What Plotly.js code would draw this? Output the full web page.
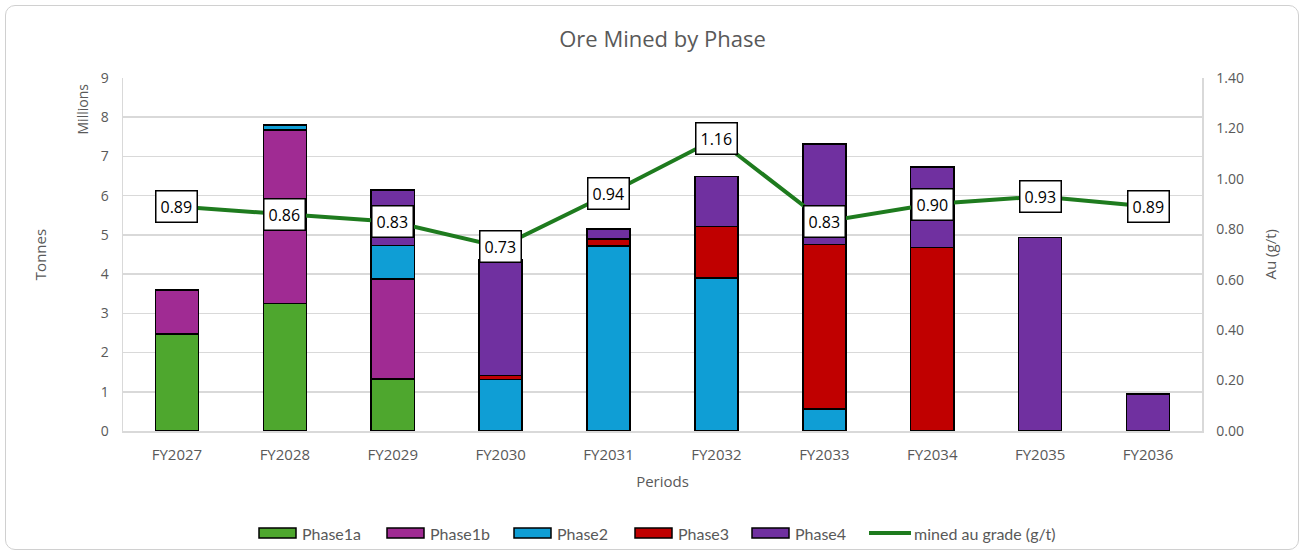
<!DOCTYPE html>
<html><head><meta charset="utf-8">
<script src="https://cdn.plot.ly/plotly-3.0.1.min.js"></script>
<style>
html,body{margin:0;padding:0;background:#fff;}
#wrap{position:relative;width:1304px;height:555px;}
#chart{width:1304px;height:555px;}
#frame{position:absolute;left:5px;top:5px;width:1292px;height:543px;border:1px solid #d0d0d0;border-radius:10px;pointer-events:none;}
</style></head>
<body>
<div id="wrap"><div id="chart"></div><div id="frame"></div></div>
<script>
const periods = ["FY2027","FY2028","FY2029","FY2030","FY2031","FY2032","FY2033","FY2034","FY2035","FY2036"];
const phase1a = [2.47, 3.25, 1.32, 0, 0, 0, 0, 0, 0, 0];
const phase1b = [1.13, 4.42, 2.56, 0, 0, 0, 0, 0, 0, 0];
const phase2  = [0, 0.13, 0.85, 1.31, 4.72, 3.90, 0.56, 0, 0, 0];
const phase3  = [0, 0, 0, 0.10, 0.17, 1.31, 4.19, 4.68, 0, 0];
const phase4  = [0, 0, 1.42, 2.95, 0.26, 1.28, 2.57, 2.05, 4.93, 0.94];
const grade   = [0.89, 0.86, 0.83, 0.73, 0.94, 1.16, 0.83, 0.90, 0.93, 0.89];

const seriesNames = ["Phase1a","Phase1b","Phase2","Phase3","Phase4"];
const lineName = "mined au grade (g/t)";
const seriesVals = [phase1a, phase1b, phase2, phase3, phase4];
const colors = ["#4ea72e","#a02b93","#0f9ed5","#c00000","#7030a0"];
const lineColor = "#1e7b1e";
const gray = "#595959";
const font = "'Open Sans', sans-serif";
const legFont = "Lato, sans-serif";

// plot-area geometry (pixels) used to place the custom legend
const M = {l:123, r:102, t:78, b:124};
const W = 1304, H = 555;
const pw = W - M.l - M.r, ph = H - M.t - M.b;
const px = x => (x - M.l) / pw;
const py = y => (H - M.b - y) / ph;

const traces = seriesNames.map((n,i)=>({
  type:"bar", name:n, x:periods, y:seriesVals[i].map(v=>v===0?null:v),
  width:0.4,
  marker:{color:colors[i], line:{color:"#000", width:1.5}},
  hoverinfo:"skip", showlegend:false
}));
traces.push({
  type:"scatter", mode:"lines", name:lineName, x:periods, y:grade,
  yaxis:"y2", line:{color:lineColor, width:4}, hoverinfo:"skip", showlegend:false
});

const annotations = grade.map((g,i)=>({
  x:periods[i], y:g, xref:"x", yref:"y2", text:g.toFixed(2), showarrow:false,
  font:{family:font, size:16, color:"#000"}, bgcolor:"#fff",
  bordercolor:"#000", borderwidth:1.5, borderpad:4
}));
annotations.push({
  text:"Millions", xref:"paper", yref:"paper", x:0, y:1, xanchor:"center", yanchor:"top",
  xshift:-41, yshift:-4, textangle:-90, showarrow:false, font:{family:font, size:14, color:gray}
});
annotations.push({
  text:"Au (g/t)", xref:"paper", yref:"paper", x:1, y:0.5, xanchor:"center", yanchor:"middle",
  xshift:67, textangle:-90, showarrow:false, font:{family:font, size:15, color:gray}
});

// custom legend (wide swatches like the original)
const legX = [259, 387, 514, 635, 752, 869];
const legY = 533;
const shapes = [];
seriesNames.forEach((n,i)=>{
  shapes.push({type:"rect", xref:"paper", yref:"paper",
    x0:px(legX[i]), x1:px(legX[i]+37), y0:py(legY+5), y1:py(legY-5),
    fillcolor:colors[i], line:{color:"#000", width:1.5}});
  annotations.push({text:n, xref:"paper", yref:"paper", x:px(legX[i]+41), y:py(legY),
    xanchor:"left", yanchor:"middle", showarrow:false, font:{family:legFont, size:16, color:gray}});
});
shapes.push({type:"line", xref:"paper", yref:"paper",
  x0:px(legX[5]), x1:px(legX[5]+42), y0:py(legY), y1:py(legY),
  line:{color:lineColor, width:4}});
annotations.push({text:lineName, xref:"paper", yref:"paper", x:px(legX[5]+43), y:py(legY),
  xanchor:"left", yanchor:"middle", showarrow:false, font:{family:legFont, size:16, color:gray}});

const layout = {
  width:W, height:H,
  margin:M,
  paper_bgcolor:"#fff", plot_bgcolor:"#fff",
  title:{text:"Ore Mined by Phase", x:0.5, xanchor:"center", y:0.93, yanchor:"middle",
    xref:"paper", font:{family:font, size:22, color:gray}},
  barmode:"stack",
  font:{family:font, color:gray},
  xaxis:{showline:true, linecolor:"#d9d9d9", linewidth:1.5, ticks:"", mirror:false,
    tickfont:{family:font, size:15, color:gray}, ticklabelstandoff:9, automargin:false,
    title:{text:"Periods", font:{family:font, size:15, color:gray}, standoff:14}},
  yaxis:{range:[0,9], dtick:1, showgrid:true, gridcolor:"#d9d9d9", gridwidth:1.5,
    showline:true, linecolor:"#d9d9d9", linewidth:1.5, zeroline:false, ticks:"",
    tickfont:{family:font, size:14, color:gray}, ticklabelstandoff:10, automargin:false,
    title:{text:"Tonnes", font:{family:font, size:15, color:gray}, standoff:50}},
  yaxis2:{range:[0,1.4], dtick:0.2, tickformat:".2f", overlaying:"y", side:"right",
    showgrid:false, showline:true, linecolor:"#d9d9d9", linewidth:1.5, zeroline:false, ticks:"",
    tickfont:{family:font, size:14, color:gray}, ticklabelstandoff:10, automargin:false},
  annotations:annotations,
  shapes:shapes,
  showlegend:false
};
Plotly.newPlot("chart", traces, layout, {displayModeBar:false, staticPlot:true});
</script>
</body></html>
